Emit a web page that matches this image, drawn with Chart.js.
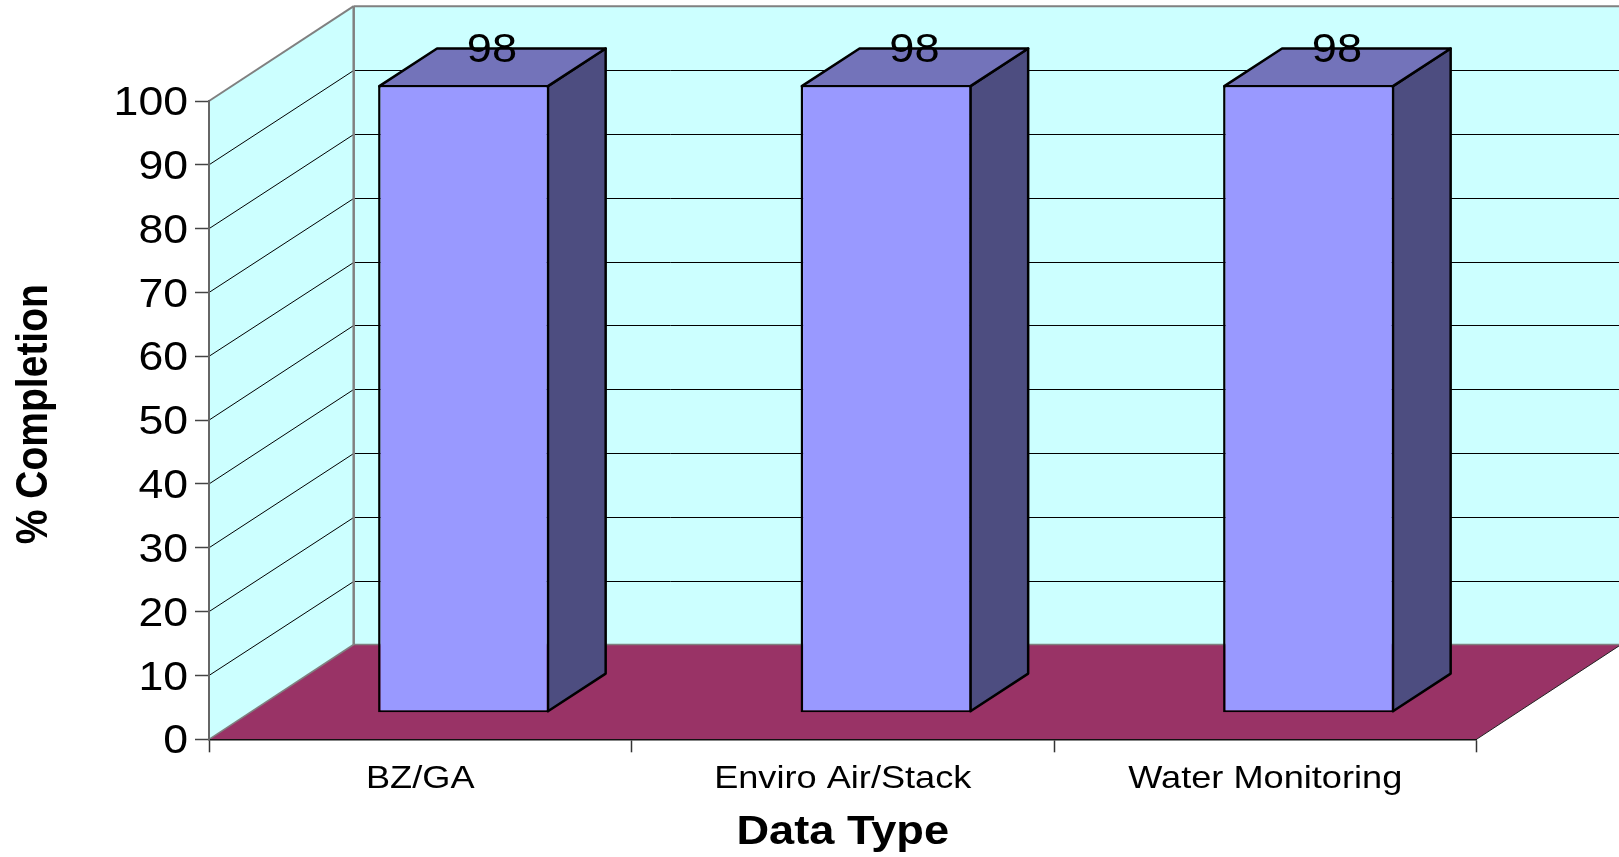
<!DOCTYPE html>
<html>
<head>
<meta charset="utf-8">
<style>html,body{margin:0;padding:0;background:#fff;overflow:hidden}canvas{display:block}</style>
<script src="https://cdn.jsdelivr.net/npm/chart.js@4/dist/chart.umd.min.js"></script>
</head>
<body>
<canvas id="c" width="1619" height="857"></canvas>
<script>
const categories = ['BZ/GA', 'Enviro Air/Stack', 'Water Monitoring'];
const completion = [98, 98, 98];
const xTitle = 'Data Type';
const yTitle = '% Completion';

const FONT = '"Liberation Sans", Arial, sans-serif';
const TEXT_STRETCH = 1.13;
const TICK_STRETCH = 1.115;
const WALL = {dx: 144.7, dy: -94.8};
const BAR = {offX: 43.4, offY: -28.6, dx: 57.7, dy: -37.7};
const COLORS = {wall: '#CCFFFF', floor: '#993366', edge: '#808080', front: '#9999FF', top: '#7373BA', side: '#4D4D80'};

function poly(ctx, pts, fill, stroke, lw) {
  ctx.beginPath();
  pts.forEach((p, i) => i ? ctx.lineTo(p[0], p[1]) : ctx.moveTo(p[0], p[1]));
  ctx.closePath();
  if (fill) { ctx.fillStyle = fill; ctx.fill(); }
  if (stroke) { ctx.strokeStyle = stroke; ctx.lineWidth = lw; ctx.lineJoin = 'round'; ctx.stroke(); }
}
function seg(ctx, x1, y1, x2, y2, color, lw) {
  ctx.beginPath(); ctx.moveTo(x1, y1); ctx.lineTo(x2, y2);
  ctx.strokeStyle = color; ctx.lineWidth = lw; ctx.stroke();
}

const box3d = {
  id: 'box3d',
  beforeInit(chart) {
    // The reference's lettering is wider than it is tall: widen text horizontally on screen.
    const ctx = chart.ctx, orig = ctx.fillText.bind(ctx);
    ctx.fillText = function (t, x, y) {
      const m = ctx.getTransform(), rotated = Math.abs(m.b) > 0.5, tick = ctx.textAlign === 'right';
      ctx.save();
      ctx.translate(x + (rotated ? 6 : tick ? 1 : 0), y + (tick ? 3 : 0));
      if (rotated) ctx.scale(1, TEXT_STRETCH); else ctx.scale(tick ? TICK_STRETCH : TEXT_STRETCH, 1);
      orig(t, 0, 0);
      ctx.restore();
    };
  },
  beforeDraw(chart) {
    const ctx = chart.ctx, a = chart.chartArea, y = chart.scales.y;
    const L = a.left, R = a.right, Y0 = y.getPixelForValue(0), Y100 = y.getPixelForValue(100);
    const bx = L + WALL.dx, d = WALL.dy;
    ctx.save();
    poly(ctx, [[L, Y0], [L, Y100], [bx, Y100 + d], [bx, Y0 + d]], COLORS.wall);
    poly(ctx, [[bx, Y100 + d], [R + WALL.dx, Y100 + d], [R + WALL.dx, Y0 + d], [bx, Y0 + d]], COLORS.wall);
    y.ticks.forEach(t => {
      if (t.value <= 0 || t.value >= 100) return;
      const p = y.getPixelForValue(t.value), back = Math.round(p + d) + 0.5;
      seg(ctx, L, p, bx, back, '#000', 1);
      seg(ctx, bx, back, R + WALL.dx, back, '#000', 1);
    });
    poly(ctx, [[L, Y0], [R, Y0], [R + WALL.dx, Y0 + d], [bx, Y0 + d]], COLORS.floor);
    seg(ctx, R, Y0, R + WALL.dx, Y0 + d, '#222', 1);
    seg(ctx, bx, Y0 + d, R + WALL.dx, Y0 + d, COLORS.edge, 1.5);
    seg(ctx, L, Y0, bx, Y0 + d, COLORS.edge, 1.5);
    seg(ctx, L, Y100, bx, Y100 + d, COLORS.edge, 2);
    seg(ctx, bx, Y100 + d, bx, Y0 + d, COLORS.edge, 2.5);
    seg(ctx, bx, Y100 + d, R + WALL.dx, Y100 + d, COLORS.edge, 2);
    ctx.restore();
  },
  beforeDatasetDraw(chart, args) {
    const ctx = chart.ctx;
    ctx.save();
    ctx.translate(BAR.offX, BAR.offY);
    args.meta.data.forEach(b => {
      const l = b.x - b.width / 2 + 1.25, r = b.x + b.width / 2 - 1.25, t = b.y + 1, base = b.base - 1;
      poly(ctx, [[r, t], [r + BAR.dx, t + BAR.dy], [r + BAR.dx, base + BAR.dy], [r, base]], COLORS.side, '#000', 2.5);
      poly(ctx, [[l, t], [l + BAR.dx, t + BAR.dy], [r + BAR.dx, t + BAR.dy], [r, t]], COLORS.top, '#000', 2.5);
    });
  },
  afterDatasetDraw(chart) { chart.ctx.restore(); },
  afterDatasetsDraw(chart) {
    const ctx = chart.ctx, meta = chart.getDatasetMeta(0);
    ctx.save();
    ctx.font = '40px ' + FONT;
    ctx.fillStyle = '#000';
    ctx.textAlign = 'center';
    ctx.textBaseline = 'alphabetic';
    meta.data.forEach((b, i) => {
      ctx.fillText(String(completion[i]), b.x + BAR.offX + BAR.dx / 2 - 0.5, b.y + BAR.offY + BAR.dy / 2 - 4);
    });
    ctx.restore();
  }
};

new Chart(document.getElementById('c'), {
  type: 'bar',
  data: {
    labels: categories,
    datasets: [{
      label: '% Completion',
      data: completion,
      base: -0.25,
      backgroundColor: COLORS.front,
      borderColor: '#000',
      borderWidth: {left: 2.5, right: 2.5, top: 2, bottom: 2},
      borderSkipped: false,
      barPercentage: 0.405,
      categoryPercentage: 1,
      clip: false
    }]
  },
  plugins: [box3d],
  options: {
    responsive: false,
    animation: false,
    layout: {padding: {top: 101, right: 142.5, left: 0, bottom: 0}},
    plugins: {legend: {display: false}, tooltip: {enabled: false}},
    scales: {
      x: {
        afterFit(s) { s.height = 117.7; },
        grid: {drawOnChartArea: false, tickLength: 13, tickColor: '#333', tickWidth: 1.5, offset: true},
        border: {color: '#111', width: 1.5},
        ticks: {color: '#000', font: {family: FONT, size: 32}, padding: 8, maxRotation: 0, autoSkip: false},
        title: {display: true, text: xTitle, color: '#000', font: {family: FONT, size: 40, weight: 'bold'}, padding: {top: 0, bottom: 0}}
      },
      y: {
        min: 0, max: 100,
        afterFit(s) { s.width = 209; },
        grid: {drawOnChartArea: false, tickLength: 14, tickColor: '#444', tickWidth: 1.5},
        border: {color: '#666', width: 2},
        ticks: {stepSize: 10, color: '#000', font: {family: FONT, size: 40}, padding: 8},
        title: {display: true, text: yTitle, color: '#000', font: {family: FONT, size: 39, weight: 'bold'}, padding: {top: 11, bottom: 0}}
      }
    }
  }
});
</script>
</body>
</html>
